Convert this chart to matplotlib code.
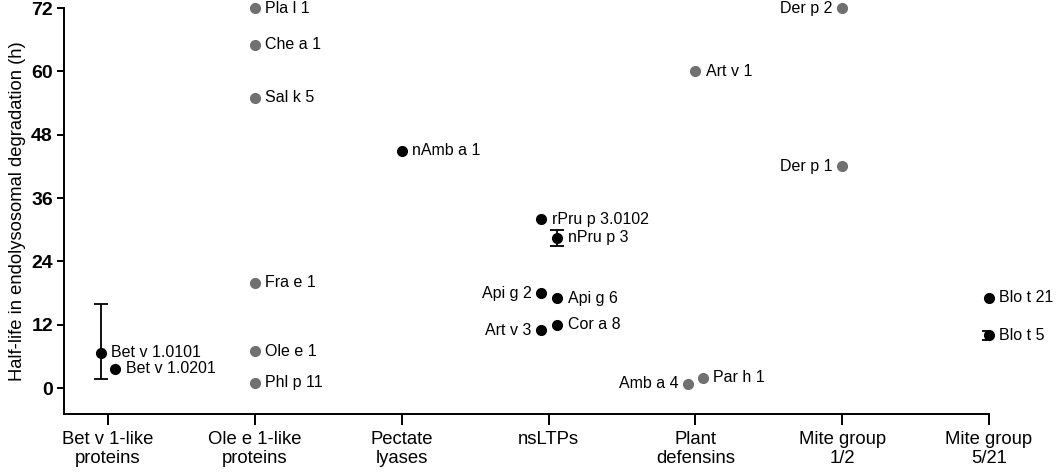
import matplotlib
matplotlib.use("Agg")
import matplotlib.pyplot as plt

plt.rcParams["font.family"] = ["Liberation Sans", "DejaVu Sans"]

categories = ["Bet v 1-like\nproteins", "Ole e 1-like\nproteins", "Pectate\nlyases",
              "nsLTPs", "Plant\ndefensins", "Mite group\n1/2", "Mite group\n5/21"]

# allergen name, category index, offset within category, half-life (h), error, gray?, label side
names = ["Bet v 1.0101", "Bet v 1.0201",
         "Pla l 1", "Che a 1", "Sal k 5", "Fra e 1", "Ole e 1", "Phl p 11",
         "nAmb a 1",
         "rPru p 3.0102", "nPru p 3", "Api g 2", "Api g 6", "Art v 3", "Cor a 8",
         "Art v 1", "Amb a 4", "Par h 1",
         "Der p 2", "Der p 1",
         "Blo t 21", "Blo t 5"]
cat_idx = [0, 0, 1, 1, 1, 1, 1, 1, 2, 3, 3, 3, 3, 3, 3, 4, 4, 4, 5, 5, 6, 6]
offsets = [-0.05, 0.05, 0, 0, 0, 0, 0, 0, 0, -0.05, 0.06, -0.05, 0.06, -0.05, 0.06,
           0, -0.05, 0.05, 0, 0, 0, 0]
half_life = [6.7, 3.7, 72, 65, 55, 20, 7, 1, 45, 32, 28.5, 18, 17, 11, 12,
             60, 0.8, 2, 72, 42, 17.1, 10]
errors = [None, None, None, None, None, None, None, None, None, None, (1.6, 1.5),
          None, None, None, None, None, None, None, None, None, None, (0.8, 0.8)]
errors[0] = (4.9, 9.3)
gray = [False, False, True, True, True, True, True, True, False, False, False,
        False, False, False, False, True, True, True, True, True, False, False]
label_left = ["Api g 2", "Art v 3", "Amb a 4", "Der p 2", "Der p 1"]

fig, ax = plt.subplots(figsize=(10.56, 4.72), dpi=100)
fig.subplots_adjust(left=0.0606, right=0.9366, top=0.983, bottom=0.123)

for n, c, o, y, e, g in zip(names, cat_idx, offsets, half_life, errors, gray):
    x = c + o
    col = "#707070" if g else "black"
    if e is not None:
        ax.errorbar(x, y, yerr=[[e[0]], [e[1]]], fmt="none", ecolor="black",
                    elinewidth=1.3, capsize=5, capthick=1.3, zorder=2)
    ax.plot(x, y, "o", color=col, markersize=7, zorder=3, clip_on=False)
    if n in label_left:
        ax.annotate(n, (x, y), xytext=(-7, 0), textcoords="offset points",
                    ha="right", va="center", fontsize=11.5)
    else:
        ax.annotate(n, (x, y), xytext=(7.5, 0), textcoords="offset points",
                    ha="left", va="center", fontsize=11.5)

ax.set_xlim(-0.30, 6.0)
ax.set_ylim(-4.9, 72)
ax.set_yticks([0, 12, 24, 36, 48, 60, 72])
ax.set_xticks(range(len(categories)))
ax.set_xticklabels(categories, fontsize=13.3, linespacing=1.15)
for lab in ax.get_yticklabels():
    lab.set_fontweight("bold")
    lab.set_fontsize(14)
ax.set_ylabel("Half-life in endolysosomal degradation (h)", fontsize=13.2, labelpad=4)
ax.spines["top"].set_visible(False)
ax.spines["right"].set_visible(False)
ax.spines["left"].set_linewidth(1.4)
ax.spines["bottom"].set_linewidth(1.4)
ax.tick_params(axis="y", length=5, width=1.4, pad=3)
ax.tick_params(axis="x", length=8, width=1.4, pad=4)

plt.savefig("out.png", dpi=100)
